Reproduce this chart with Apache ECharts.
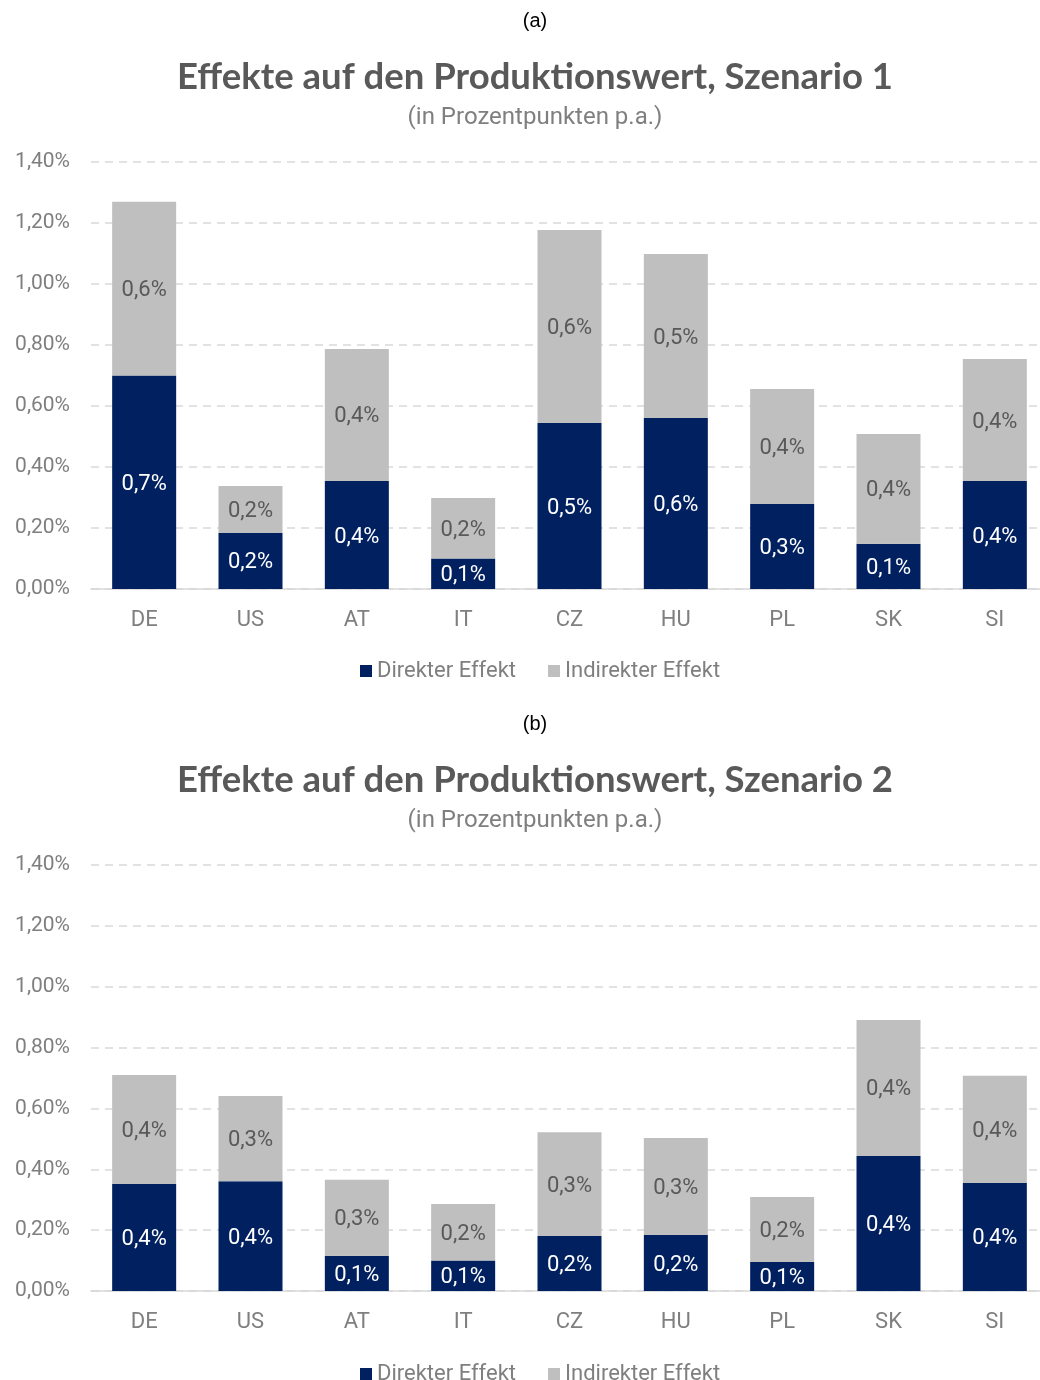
<!DOCTYPE html>
<html><head><meta charset="utf-8">
<script src="https://cdn.jsdelivr.net/npm/echarts@6/dist/echarts.min.js"></script>
<style>html,body{margin:0;padding:0;background:#fff;overflow:hidden}#c{width:1048px;height:1380px}</style>
</head><body><div id="c"></div>
<script>
const categories = ['DE','US','AT','IT','CZ','HU','PL','SK','SI'];
const yTicks = [0,0.2,0.4,0.6,0.8,1.0,1.2,1.4];
// Szenario 1 (percent points)
const direct1   = [0.70,0.184,0.354,0.10,0.544,0.561,0.279,0.148,0.354];
const indirect1 = [0.57,0.154,0.433,0.198,0.633,0.537,0.377,0.36,0.40];
const directLbl1   = ['0,7%','0,2%','0,4%','0,1%','0,5%','0,6%','0,3%','0,1%','0,4%'];
const indirectLbl1 = ['0,6%','0,2%','0,4%','0,2%','0,6%','0,5%','0,4%','0,4%','0,4%'];
// Szenario 2
const direct2   = [0.352,0.361,0.116,0.10,0.181,0.184,0.095,0.444,0.355];
const indirect2 = [0.358,0.28,0.25,0.186,0.341,0.319,0.214,0.447,0.352];
const directLbl2   = ['0,4%','0,4%','0,1%','0,1%','0,2%','0,2%','0,1%','0,4%','0,4%'];
const indirectLbl2 = ['0,4%','0,3%','0,3%','0,2%','0,3%','0,3%','0,2%','0,4%','0,4%'];
const titles = ['Effekte auf den Produktionswert, Szenario 1','Effekte auf den Produktionswert, Szenario 2'];
const panelTags = ['(a)','(b)'];
const subtitle = '(in Prozentpunkten p.a.)';
const seriesNames = ['Direkter Effekt','Indirekter Effekt'];

const NAVY = '#002060', GRAY = '#bfbfbf', TXT = '#7f7f7f';
const off = [0, 703];
const chart = echarts.init(document.getElementById('c'), null, {renderer:'canvas'});

const title = [], grid = [], xAxis = [], yAxis = [], legend = [], series = [];
const dataSets = [[direct1,indirect1,directLbl1,indirectLbl1],[direct2,indirect2,directLbl2,indirectLbl2]];
for (let i=0;i<2;i++){
  const o = off[i];
  title.push({text:panelTags[i], left:530, textAlign:'center', top:o+6, textStyle:{fontFamily:'Liberation Sans',fontSize:20,fontWeight:'normal',color:'#000'}});
  title.push({text:titles[i], left:530, textAlign:'center', top:o+54, textStyle:{fontFamily:'Lato',fontSize:36.5,fontWeight:'bold',color:'#595959'}});
  title.push({text:subtitle, left:530, textAlign:'center', top:o+101, textStyle:{fontFamily:'Roboto',fontSize:24,fontWeight:'normal',color:'#7f7f7f'}});
  grid.push({left:91, right:0, top:o+162, height:427-(i?1:0)});
  xAxis.push({type:'category', gridIndex:i, data:categories,
    axisLine:{lineStyle:{color:'#d9d9d9',width:1.5}}, axisTick:{show:false},
    axisLabel:{color:TXT, fontFamily:'Roboto', fontSize:22, margin:20}});
  yAxis.push({type:'value', gridIndex:i, min:0, max:1.4, interval:0.2,
    axisLine:{show:false}, axisTick:{show:false},
    axisLabel:{color:TXT, fontFamily:'Roboto', fontSize:21, margin:21,
      formatter:v=>v.toFixed(2).replace('.',',')+'%'},
    splitLine:{lineStyle:{color:'#d9d9d9', type:[8,6], width:1.5}}});
  legend.push({top:o+660, left:360, padding:0, itemWidth:12, itemHeight:12, itemGap:32,
    icon:'rect', data:seriesNames,
    textStyle:{color:TXT, fontFamily:'Roboto', fontSize:22}});
  const [d,ind,dl,il] = dataSets[i];
  series.push({name:seriesNames[0], type:'bar', stack:'s'+i, xAxisIndex:i, yAxisIndex:i, barWidth:64,
    data:d, itemStyle:{color:NAVY},
    label:{show:true, position:'inside', offset:[0,2], color:'#fff', fontFamily:'Roboto', fontSize:22,
      formatter:p=>dl[p.dataIndex]}});
  series.push({name:seriesNames[1], type:'bar', stack:'s'+i, xAxisIndex:i, yAxisIndex:i, barWidth:64,
    data:ind, itemStyle:{color:GRAY},
    label:{show:true, position:'inside', offset:[0,2], color:'#595959', fontFamily:'Roboto', fontSize:22,
      formatter:p=>il[p.dataIndex]}});
}
chart.setOption({animation:false, title, grid, xAxis, yAxis, legend, series});
</script></body></html>
